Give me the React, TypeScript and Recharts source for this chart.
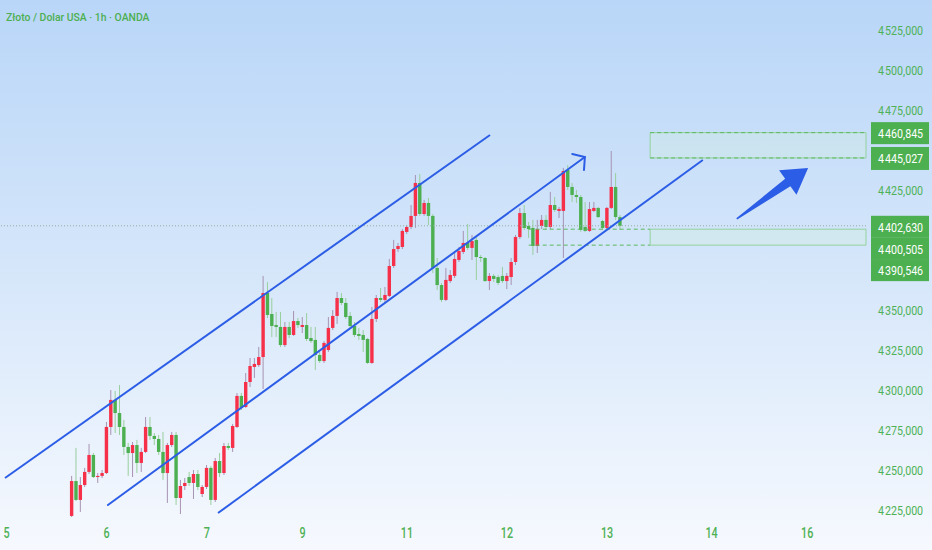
import { ComposedChart, Bar, XAxis, YAxis, ReferenceLine, ReferenceArea } from 'recharts';

// hourly candles (first candle sits in slot 16)
const opens = [
  4221.3, 4243.1, 4231.3, 4240.6, 4248.8, 4259.4, 4245.6, 4246.3, 4248.1, 4276.9,
  4293.8, 4285.6, 4276.9, 4264.4, 4260.6, 4265.6, 4254.4, 4261.3, 4276.9, 4271.3,
  4269.4, 4261.3, 4248.1, 4265.6, 4271.9, 4232.5, 4240.0, 4245.6, 4241.9, 4247.5,
  4235.0, 4239.4, 4251.3, 4231.3, 4255.6, 4248.1, 4265.0, 4263.8, 4276.9, 4296.3,
  4289.4, 4305.0, 4314.4, 4315.6, 4320.6, 4360.6, 4347.5, 4340.6, 4339.4, 4328.1,
  4339.4, 4334.4, 4343.1, 4339.4, 4340.6, 4332.5, 4331.3, 4321.9, 4318.1, 4325.0,
  4338.8, 4346.3, 4357.5, 4354.4, 4346.3, 4340.0, 4335.0, 4334.4, 4331.9, 4316.9,
  4344.4, 4357.5, 4356.3, 4358.8, 4377.5, 4388.1, 4389.4, 4398.8, 4401.9, 4408.8,
  4429.4, 4410.0, 4416.9, 4408.8, 4376.3, 4365.6, 4356.3, 4368.1, 4371.3, 4381.3,
  4386.3, 4391.9, 4388.8, 4393.8, 4383.1, 4382.5, 4368.1, 4371.3, 4370.6, 4371.3,
  4368.1, 4370.6, 4380.0, 4395.6, 4410.6, 4402.5, 4401.3, 4390.0, 4402.5, 4406.3,
  4401.9, 4415.6, 4411.9, 4411.9, 4437.5, 4426.9, 4421.9, 4420.6, 4401.9, 4399.4,
  4411.9, 4413.8, 4405.6, 4401.3, 4413.8, 4426.9, 4408.1,
];
const closes = [
  4243.1, 4231.3, 4240.6, 4248.8, 4259.4, 4245.6, 4246.3, 4248.1, 4276.9, 4293.8,
  4285.6, 4276.9, 4264.4, 4260.6, 4265.6, 4254.4, 4261.3, 4276.9, 4271.3, 4269.4,
  4261.3, 4248.1, 4265.6, 4271.9, 4232.5, 4240.0, 4241.9, 4241.9, 4247.5, 4239.4,
  4239.4, 4251.3, 4231.3, 4255.6, 4248.1, 4265.0, 4263.8, 4277.5, 4296.3, 4288.8,
  4305.0, 4315.0, 4316.3, 4320.6, 4360.6, 4346.9, 4340.0, 4339.4, 4328.1, 4339.4,
  4334.4, 4343.1, 4340.6, 4340.6, 4331.9, 4330.6, 4321.9, 4318.1, 4329.4, 4338.8,
  4346.3, 4357.5, 4354.4, 4345.6, 4340.0, 4334.4, 4333.8, 4331.3, 4316.9, 4344.4,
  4357.5, 4356.3, 4359.4, 4377.5, 4388.1, 4390.0, 4399.4, 4401.9, 4408.8, 4429.4,
  4410.0, 4416.9, 4408.8, 4376.3, 4365.6, 4356.3, 4368.8, 4371.9, 4381.9, 4386.9,
  4391.9, 4388.8, 4393.1, 4383.1, 4382.5, 4368.1, 4371.3, 4369.4, 4366.9, 4368.1,
  4371.3, 4380.0, 4395.6, 4410.6, 4401.3, 4400.6, 4390.0, 4400.6, 4406.3, 4401.9,
  4415.6, 4412.5, 4413.1, 4436.9, 4426.9, 4421.9, 4420.6, 4400.0, 4399.4, 4413.1,
  4413.8, 4408.1, 4401.3, 4413.8, 4426.9, 4408.1, 4402.6,
];
const highs = [
  4246.3, 4263.8, 4245.6, 4251.3, 4266.3, 4260.6, 4248.1, 4250.0, 4280.0, 4300.0,
  4299.4, 4303.1, 4281.3, 4266.9, 4267.5, 4268.8, 4263.8, 4283.1, 4283.1, 4273.1,
  4271.9, 4273.8, 4266.9, 4273.8, 4273.8, 4243.8, 4245.0, 4248.8, 4250.0, 4250.0,
  4240.6, 4253.1, 4252.5, 4257.5, 4260.6, 4266.9, 4266.9, 4278.8, 4298.1, 4298.1,
  4310.6, 4320.0, 4320.0, 4326.9, 4371.3, 4367.5, 4357.5, 4348.8, 4348.8, 4342.5,
  4342.5, 4349.4, 4345.0, 4345.6, 4348.1, 4339.4, 4339.4, 4323.8, 4330.6, 4345.6,
  4350.0, 4361.3, 4360.6, 4357.5, 4348.8, 4342.5, 4338.8, 4337.5, 4332.5, 4351.9,
  4359.4, 4363.8, 4364.4, 4381.9, 4393.8, 4391.9, 4400.6, 4403.1, 4415.6, 4434.4,
  4435.0, 4418.8, 4420.0, 4410.0, 4382.5, 4366.9, 4376.3, 4375.0, 4385.6, 4389.4,
  4399.4, 4403.8, 4396.9, 4395.6, 4384.4, 4383.1, 4373.1, 4372.5, 4371.9, 4376.9,
  4373.1, 4382.5, 4396.9, 4413.8, 4415.6, 4405.0, 4406.3, 4406.3, 4409.4, 4409.4,
  4423.8, 4420.6, 4414.4, 4438.8, 4440.6, 4429.4, 4425.0, 4421.9, 4417.5, 4417.5,
  4417.5, 4414.4, 4406.3, 4414.4, 4449.4, 4435.6, 4409.4,
];
const lows = [
  4220.6, 4230.6, 4223.8, 4239.4, 4247.5, 4245.0, 4241.9, 4245.0, 4247.5, 4271.9,
  4273.1, 4271.9, 4259.4, 4246.3, 4245.6, 4248.1, 4248.8, 4260.6, 4268.8, 4265.6,
  4259.4, 4243.8, 4229.4, 4264.4, 4228.1, 4222.5, 4237.5, 4240.0, 4231.9, 4237.5,
  4233.1, 4238.1, 4228.1, 4230.0, 4245.6, 4246.9, 4262.5, 4261.3, 4276.3, 4287.5,
  4288.8, 4301.9, 4307.5, 4314.4, 4300.6, 4345.0, 4333.1, 4333.1, 4326.9, 4326.9,
  4332.5, 4333.8, 4338.8, 4335.6, 4330.6, 4329.4, 4312.5, 4316.9, 4316.9, 4323.8,
  4337.5, 4341.3, 4353.1, 4344.4, 4338.8, 4333.1, 4331.3, 4323.8, 4316.3, 4316.3,
  4342.5, 4355.0, 4355.0, 4358.1, 4376.3, 4386.3, 4388.1, 4397.5, 4400.6, 4401.3,
  4408.8, 4408.8, 4403.1, 4373.1, 4362.5, 4355.0, 4355.6, 4366.9, 4370.0, 4380.0,
  4385.0, 4387.5, 4381.3, 4368.8, 4380.0, 4367.5, 4362.5, 4367.5, 4365.6, 4366.9,
  4363.1, 4365.6, 4378.1, 4394.4, 4400.0, 4395.0, 4384.4, 4385.6, 4400.6, 4400.0,
  4400.6, 4411.3, 4407.5, 4382.5, 4425.0, 4417.5, 4416.9, 4398.8, 4398.8, 4398.8,
  4411.3, 4407.5, 4400.0, 4400.0, 4413.1, 4406.3, 4400.0,
];
const firstSlot = 16;

const daySlots = [1, 24, 47, 69, 93, 116, 139, 163, 185];
const dayLabels = ['5', '6', '7', '9', '11', '12', '13', '14', '16'];
const yTicks = [4225, 4250, 4275, 4300, 4325, 4350, 4425, 4475, 4500, 4525];

// channel drawn on the chart: [slot, price] pairs
const upperChannel = [[0.65, 4245.0], [112.1, 4459.4]];
const middleChannel = [[24.3, 4228.1], [133.9, 4445.6]];
const lowerChannel = [[49.6, 4223.1], [161.0, 4443.75]];
const bigArrow = [[168.8, 4406.9], [185.2, 4438.75]];

const lastPrice = 4402.63;
const upperZone = [4445.027, 4460.845];
const lowerZone = [4390.546, 4400.505];
const zoneStart = 148.9;
const dashStart = 121;
const slotEnd = 198.5;

const RED = '#f7304a';
const GREEN = '#4caf50';
const BLUE = '#2c5de6';
const TEXT = '#4fb155';

const candles = opens.map((o, k) => ({
  i: firstSlot + k,
  o,
  h: highs[k],
  l: lows[k],
  c: closes[k],
  range: [lows[k], highs[k]],
}));

const fmt = (v: number) => {
  const s = v.toFixed(3).replace('.', ',');
  return s[0] + '\u200a' + s.slice(1);
};

function Candle(props: any) {
  const { x, y, width, height, payload } = props;
  const { o, h, l, c } = payload;
  const hgt = Math.abs(height);
  const top = Math.min(y, y + height);
  const k = h - l > 0 ? hgt / (h - l) : 0;
  const up = c >= o;
  const bodyTop = top + (h - Math.max(o, c)) * k;
  const bodyH = Math.max(Math.abs(o - c) * k, 1);
  const cx = x + width / 2;
  return (
    <g>
      <line x1={cx} x2={cx} y1={top} y2={top + hgt} stroke={up ? '#a792b2' : '#98cf9c'} strokeWidth={1} />
      <rect x={x + 0.3} y={bodyTop} width={width - 0.6} height={bodyH} fill={up ? RED : GREEN} />
    </g>
  );
}

function XTick({ x, y, payload }: any) {
  const label = dayLabels[daySlots.indexOf(payload.value)];
  return (
    <text
      transform={`translate(${x},${y + 17.5}) scale(0.72,1)`}
      textAnchor="middle"
      fill={TEXT}
      fontSize={15}
      fontWeight={500}
      fontFamily="Roboto"
    >
      {label}
    </text>
  );
}

function YTick({ x, y, payload }: any) {
  return (
    <text
      transform={`translate(${x + 12},${y + 5}) scale(0.79,1)`}
      fill={TEXT}
      fontSize={13.5}
      fontFamily="Roboto"
    >
      {fmt(payload.value)}
    </text>
  );
}

function PriceTag(props: any) {
  const { viewBox, text, shift = 0, h = 22 } = props;
  const right = viewBox.x + viewBox.width;
  const cy = viewBox.y + shift;
  return (
    <g>
      <rect x={right + 5} y={cy - h / 2} width={58} height={h} fill={GREEN} />
      <text
        transform={`translate(${right + 12},${cy + 5}) scale(0.79,1)`}
        fill="#ffffff"
        fontSize={13.5}
        fontFamily="Roboto"
      >
        {text}
      </text>
    </g>
  );
}

function ArrowLine(p: any) {
  const { x1, y1, x2, y2 } = p;
  const a = Math.atan2(y1 - y2, x1 - x2);
  const arm = 13;
  const d = (50 * Math.PI) / 180;
  return (
    <g stroke={BLUE} strokeWidth={2} fill="none" strokeLinecap="round">
      <line x1={x1} y1={y1} x2={x2} y2={y2} />
      <polyline
        points={`${x2 + arm * Math.cos(a - d)},${y2 + arm * Math.sin(a - d)} ${x2},${y2} ${x2 + arm * Math.cos(a + d)},${y2 + arm * Math.sin(a + d)}`}
      />
    </g>
  );
}

function FatArrow(p: any) {
  const { x1, y1, x2, y2 } = p;
  const dx = x2 - x1;
  const dy = y2 - y1;
  const len = Math.hypot(dx, dy);
  const ux = dx / len;
  const uy = dy / len;
  const nx = -uy;
  const ny = ux;
  const head = 25;
  const hw = 15;
  const sw = 4.5;
  const bx = x2 - ux * head;
  const by = y2 - uy * head;
  const pts = [
    [x1 + nx * 0.8, y1 + ny * 0.8],
    [bx + nx * sw, by + ny * sw],
    [bx + nx * hw, by + ny * hw],
    [x2, y2],
    [bx - nx * hw, by - ny * hw],
    [bx - nx * sw, by - ny * sw],
    [x1 - nx * 0.8, y1 - ny * 0.8],
  ];
  return <polygon points={pts.map((q) => q.join(',')).join(' ')} fill={BLUE} />;
}

const seg = (pair: number[][]) => [
  { x: pair[0][0], y: pair[0][1] },
  { x: pair[1][0], y: pair[1][1] },
];

export default function App() {
  return (
    <div
      style={{
        position: 'absolute',
        left: 0,
        top: 0,
        width: 932,
        height: 550,
        overflow: 'hidden',
        background: 'linear-gradient(180deg, #b9d6f8 0%, #d3e5fa 45%, #f6f9fe 100%)',
      }}
    >
      <ComposedChart width={932} height={550} data={candles} margin={{ top: 0, right: 0, bottom: 0, left: 0 }}>
        <XAxis
          type="number"
          dataKey="i"
          domain={[-0.5, slotEnd]}
          allowDataOverflow
          ticks={daySlots}
          tick={<XTick />}
          tickLine={false}
          axisLine={false}
          tickSize={0}
          tickMargin={0}
          height={30}
        />
        <YAxis
          orientation="right"
          type="number"
          domain={[4218.75, 4543.75]}
          allowDataOverflow
          ticks={yTicks}
          tick={<YTick />}
          tickLine={false}
          axisLine={false}
          tickSize={0}
          tickMargin={0}
          width={66}
        />

        <ReferenceArea
          x1={zoneStart}
          x2={slotEnd}
          y1={upperZone[0]}
          y2={upperZone[1]}
          fill="rgba(210,245,215,0.5)"
          stroke="#93d39c"
          ifOverflow="visible"
        />
        <ReferenceArea
          x1={zoneStart}
          x2={slotEnd}
          y1={lowerZone[0]}
          y2={lowerZone[1]}
          fill="rgba(210,245,215,0.5)"
          stroke="#93d39c"
          ifOverflow="visible"
        />
        <ReferenceLine
          segment={[{ x: zoneStart, y: upperZone[1] }, { x: slotEnd, y: upperZone[1] }]}
          stroke="#5cb85f"
          strokeDasharray="4 3"
          ifOverflow="visible"
        />
        <ReferenceLine
          segment={[{ x: zoneStart, y: upperZone[0] }, { x: slotEnd, y: upperZone[0] }]}
          stroke="#5cb85f"
          strokeDasharray="4 3"
          ifOverflow="visible"
        />
        <ReferenceLine
          segment={[{ x: dashStart, y: lowerZone[1] }, { x: zoneStart, y: lowerZone[1] }]}
          stroke="#5cb85f"
          strokeDasharray="4 3"
          ifOverflow="visible"
        />
        <ReferenceLine
          segment={[{ x: dashStart, y: lowerZone[0] }, { x: zoneStart, y: lowerZone[0] }]}
          stroke="#5cb85f"
          strokeDasharray="4 3"
          ifOverflow="visible"
        />
        <ReferenceLine y={lastPrice} stroke="#93aea0" strokeDasharray="1 2" ifOverflow="visible" />

        <Bar dataKey="range" barSize={4} shape={<Candle />} isAnimationActive={false} />

        <ReferenceLine segment={seg(upperChannel)} stroke={BLUE} strokeWidth={2} ifOverflow="visible" />
        <ReferenceLine segment={seg(middleChannel)} shape={ArrowLine} ifOverflow="visible" />
        <ReferenceLine segment={seg(lowerChannel)} stroke={BLUE} strokeWidth={2} ifOverflow="visible" />
        <ReferenceLine segment={seg(bigArrow)} shape={FatArrow} ifOverflow="visible" />

        <ReferenceLine y={upperZone[1]} stroke="none" ifOverflow="visible" label={<PriceTag text={fmt(upperZone[1])} shift={0.5} />} />
        <ReferenceLine y={upperZone[0]} stroke="none" ifOverflow="visible" label={<PriceTag text={fmt(upperZone[0])} shift={0.5} h={23} />} />
        <ReferenceLine y={lastPrice} stroke="none" ifOverflow="visible" label={<PriceTag text={fmt(lastPrice)} shift={1} h={22} />} />
        <ReferenceLine y={lowerZone[1]} stroke="none" ifOverflow="visible" label={<PriceTag text={fmt(lowerZone[1])} shift={19.4} h={22} />} />
        <ReferenceLine y={lowerZone[0]} stroke="none" ifOverflow="visible" label={<PriceTag text={fmt(lowerZone[0])} shift={25} h={22} />} />
      </ComposedChart>
      <div
        style={{
          position: 'absolute',
          left: 6,
          top: 9,
          fontFamily: 'Roboto',
          fontSize: 11.8,
          fontWeight: 500,
          lineHeight: '16px',
          color: GREEN,
          whiteSpace: 'nowrap',
          transform: 'scaleX(0.88)',
          transformOrigin: 'left top',
        }}
      >
        Złoto / Dolar USA · 1h · OANDA
      </div>
    </div>
  );
}
